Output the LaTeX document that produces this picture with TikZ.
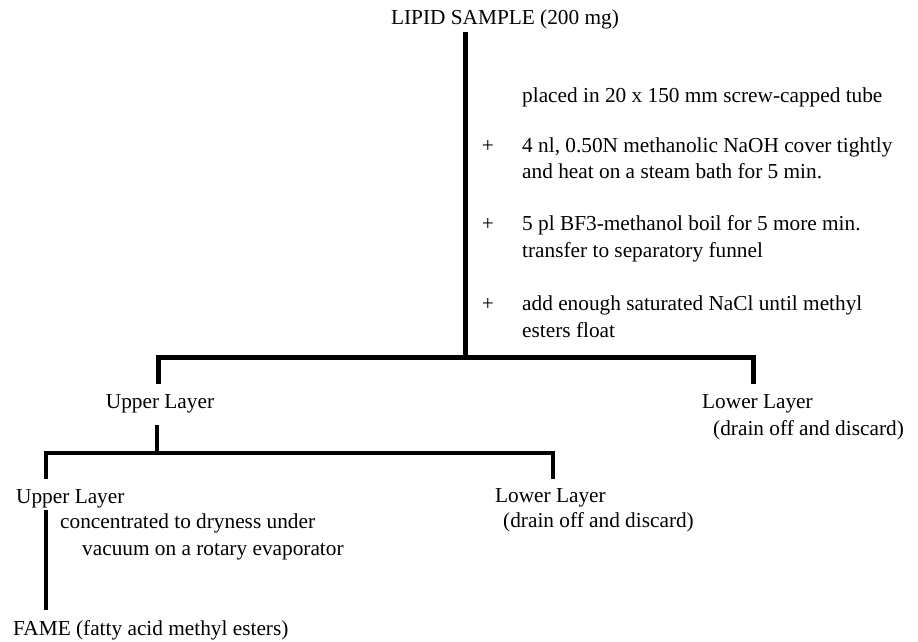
\documentclass[tikz,border=0pt]{standalone}
\usepackage{fontspec}
\setmainfont{Liberation Serif}
\begin{document}
\begin{tikzpicture}[x=1pt,y=-1pt,
  txt/.style={inner sep=0pt, font=\fontsize{21.3}{25}\selectfont},
  lt/.style={txt, anchor=base west},
  bar/.style={line width=5pt, line join=miter},
  thinbar/.style={line width=4.5pt, line join=miter}]
\useasboundingbox[fill=white] (0,0) rectangle (918,642);
% texts
\node[txt, anchor=base] (lipid) at (505,25) {LIPID SAMPLE (200 mg)};
\node[lt] (s1) at (522,102) {placed in 20 x 150 mm screw-capped tube};
\node[txt, anchor=base] (p1) at (488,152) {+};
\node[lt] (s2a) at (522,152) {4 nl, 0.50N methanolic NaOH cover tightly};
\node[lt] (s2b) at (522,178) {and heat on a steam bath for 5 min.};
\node[txt, anchor=base] (p2) at (488,230) {+};
\node[lt] (s3a) at (522,230) {5 pl BF3-methanol boil for 5 more min.};
\node[lt] (s3b) at (522,257) {transfer to separatory funnel};
\node[txt, anchor=base] (p3) at (488,310) {+};
\node[lt] (s4a) at (522,310) {add enough saturated NaCl until methyl};
\node[lt] (s4b) at (522,337) {esters float};
\node[txt, anchor=base] (up1) at (160,408) {Upper Layer};
\node[lt] (lo1) at (702,408) {Lower Layer};
\node[lt] (lo1b) at (713,435) {(drain off and discard)};
\node[lt] (up2) at (16,503) {Upper Layer};
\node[lt] (lo2) at (495,502) {Lower Layer};
\node[lt] (lo2b) at (503,527) {(drain off and discard)};
\node[lt] (c1) at (60,528) {concentrated to dryness under};
\node[lt] (c2) at (82,555) {vacuum on a rotary evaporator};
\node[lt] (fame) at (13,635) {FAME (fatty acid methyl esters)};
% junction coordinates
\coordinate (top) at (465,32);
\coordinate (j1) at (465,357);
\coordinate (l1) at (158,357);
\coordinate (r1) at (753,357);
\coordinate (l1e) at (158,384);
\coordinate (r1e) at (753,384);
\coordinate (s2t) at (157,425);
\coordinate (j2) at (157,453);
\coordinate (l2) at (46,453);
\coordinate (r2) at (553,453);
\coordinate (l2e) at (46,479);
\coordinate (r2e) at (553,479);
\coordinate (v3t) at (46,510);
\coordinate (v3b) at (46,610);
% connectors
\draw[bar] (top) -- (j1);
\draw[bar] (l1e) -- (l1) -- (r1) -- (r1e);
\draw[thinbar] (s2t) -- (j2);
\draw[thinbar] (l2e) -- (l2) -- (r2) -- (r2e);
\draw[thinbar] (v3t) -- (v3b);
\end{tikzpicture}
\end{document}
